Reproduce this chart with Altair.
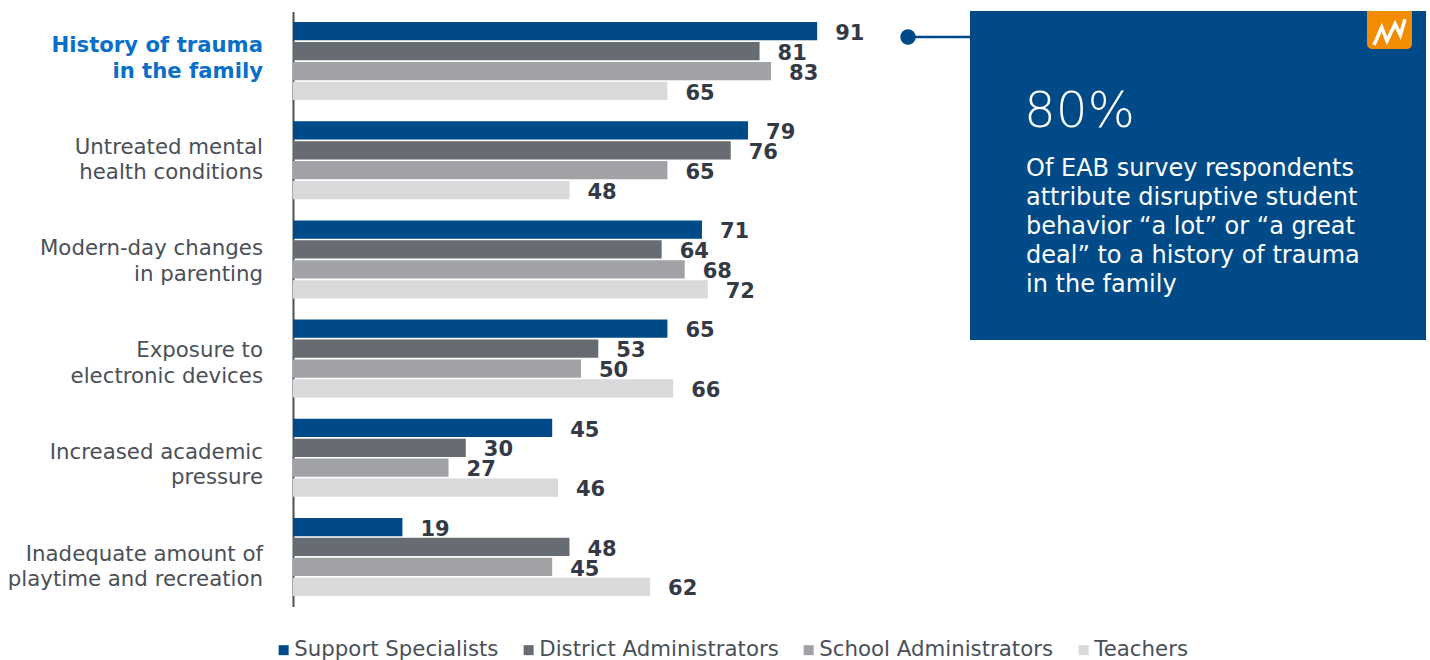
import altair as alt
import pandas as pd

categories = [
    "History of trauma|in the family",
    "Untreated mental|health conditions",
    "Modern-day changes|in parenting",
    "Exposure to|electronic devices",
    "Increased academic|pressure",
    "Inadequate amount of|playtime and recreation",
]
series = ["Support Specialists", "District Administrators", "School Administrators", "Teachers"]
support = [91, 79, 71, 65, 45, 19]
district = [81, 76, 64, 53, 30, 48]
school = [83, 65, 68, 50, 27, 45]
teachers = [65, 48, 72, 66, 46, 62]
colors = ["#004B87", "#676C73", "#A0A2A5", "#D8D9DB"]
callout_big = "80%"
callout_lines = (
    "Of EAB survey respondents|attribute disruptive student|"
    "behavior “a lot” or “a great|deal” to a history of trauma|in the family"
)

FONT = "DejaVu Sans"
rows = [
    {"category": c, "series": s, "value": v}
    for s, vals in zip(series, [support, district, school, teachers])
    for c, v in zip(categories, vals)
]
df = pd.DataFrame(rows)
one = pd.DataFrame({"a": [0]})

# The plot area begins at the vertical axis; everything else is offset from it.
x_scale = alt.Scale(domain=[0, 100], range=[0, 576])
y_band = alt.Scale(domain=categories, paddingInner=0, paddingOuter=0)
offset_scale = alt.Scale(domain=series, paddingInner=0.08, paddingOuter=0.53)
name_scale = alt.Scale(type="point", domain=categories, range=[34.5, 543], padding=0)

bars = (
    alt.Chart(df)
    .mark_bar(orient="horizontal")
    .encode(
        x=alt.X("value:Q", scale=x_scale, axis=None),
        y=alt.Y(
            "category:N",
            scale=y_band,
            sort=categories,
            axis=alt.Axis(
                title=None, labels=False, ticks=False, grid=False,
                domainColor="#4A5058", domainWidth=2,
            ),
        ),
        yOffset=alt.YOffset("series:N", scale=offset_scale, sort=series),
        color=alt.Color(
            "series:N",
            scale=alt.Scale(domain=series, range=colors),
            legend=alt.Legend(
                title=None, orient="none", direction="horizontal",
                legendX=-20, legendY=628, columns=4,
                symbolType="square", symbolSize=100, symbolStrokeWidth=0,
                labelFont=FONT, labelFontSize=21.3, labelColor="#4A5058",
                labelOffset=0, columnPadding=19, labelLimit=400,
            ),
        ),
    )
)

labels = (
    alt.Chart(df)
    .mark_text(align="left", baseline="middle", dx=18, dy=2.7, font=FONT,
               fontSize=21, fontWeight="bold", color="#343A45")
    .encode(
        x=alt.X("value:Q", scale=x_scale, axis=None),
        y=alt.Y("category:N", scale=y_band, sort=categories, axis=None),
        yOffset=alt.YOffset("series:N", scale=offset_scale, sort=series),
        text=alt.Text("value:Q"),
    )
)

# Category names sit on their own, slightly wider spaced, vertical scale.
plain_names = pd.DataFrame({"category": categories[1:]})
bold_names = pd.DataFrame({"category": categories[:1]})
names_plain = (
    alt.Chart(plain_names)
    .mark_text(align="right", baseline="middle", font=FONT, fontSize=21.3,
               lineBreak="|", lineHeight=25.5, color="#4A5058")
    .encode(
        x=alt.value(-30),
        y=alt.Y("category:N", sort=categories, axis=None, scale=name_scale),
        text="category:N",
    )
)
names_bold = (
    alt.Chart(bold_names)
    .mark_text(align="right", baseline="middle", font=FONT, fontSize=21.2,
               fontWeight="bold", lineBreak="|", lineHeight=25.5, color="#0A6FC8")
    .encode(
        x=alt.value(-30),
        y=alt.Y("category:N", sort=categories, axis=None, scale=name_scale),
        text="category:N",
    )
)

base = alt.Chart(one)
connector = base.mark_rule(color="#004B87", strokeWidth=2.5).encode(
    x=alt.value(615), x2=alt.value(678), y=alt.value(25.5)
)
dot = base.mark_point(filled=True, opacity=1, color="#004B87", size=240, shape="circle").encode(
    x=alt.value(615), y=alt.value(25.5)
)
panel = base.mark_rect(color="#004B87").encode(
    x=alt.value(677), x2=alt.value(1133), y=alt.value(-0.5), y2=alt.value(328.5)
)
badge = base.mark_rect(color="#F28C00", cornerRadiusBottomLeft=5, cornerRadiusBottomRight=5).encode(
    x=alt.value(1074), x2=alt.value(1119), y=alt.value(-0.5), y2=alt.value(37.5)
)
zigzag = base.mark_point(
    shape="M-1 0.84 L-0.5 -0.3 L-0.16 0.57 L0.36 -0.52 L0.7 0.2 L1 -0.82",
    filled=False, opacity=1, color="white", strokeWidth=3.5, size=961,
).encode(x=alt.value(1096.5), y=alt.value(20.5))
big = base.mark_text(align="left", baseline="alphabetic", font=FONT, fontSize=50,
                     fontWeight=200, color="white").encode(
    x=alt.value(731), y=alt.value(115), text=alt.value(callout_big)
)
body = base.mark_text(align="left", baseline="middle", font=FONT, fontSize=24,
                      lineBreak="|", lineHeight=29, color="white").encode(
    x=alt.value(733), y=alt.value(157.5), text=alt.value(callout_lines)
)

chart = (
    alt.layer(bars, labels, names_plain, names_bold, connector, dot, panel, badge, zigzag, big, body)
    .resolve_scale(y="independent")
    .properties(
        width=1137, height=595,
        autosize=alt.AutoSizeParams(type="none"),
        padding={"left": 293, "top": 11.5, "right": 0, "bottom": 53.5},
    )
    .configure_view(stroke=None)
)

chart.save("out.html", embed_options={"renderer": "svg", "actions": False})
